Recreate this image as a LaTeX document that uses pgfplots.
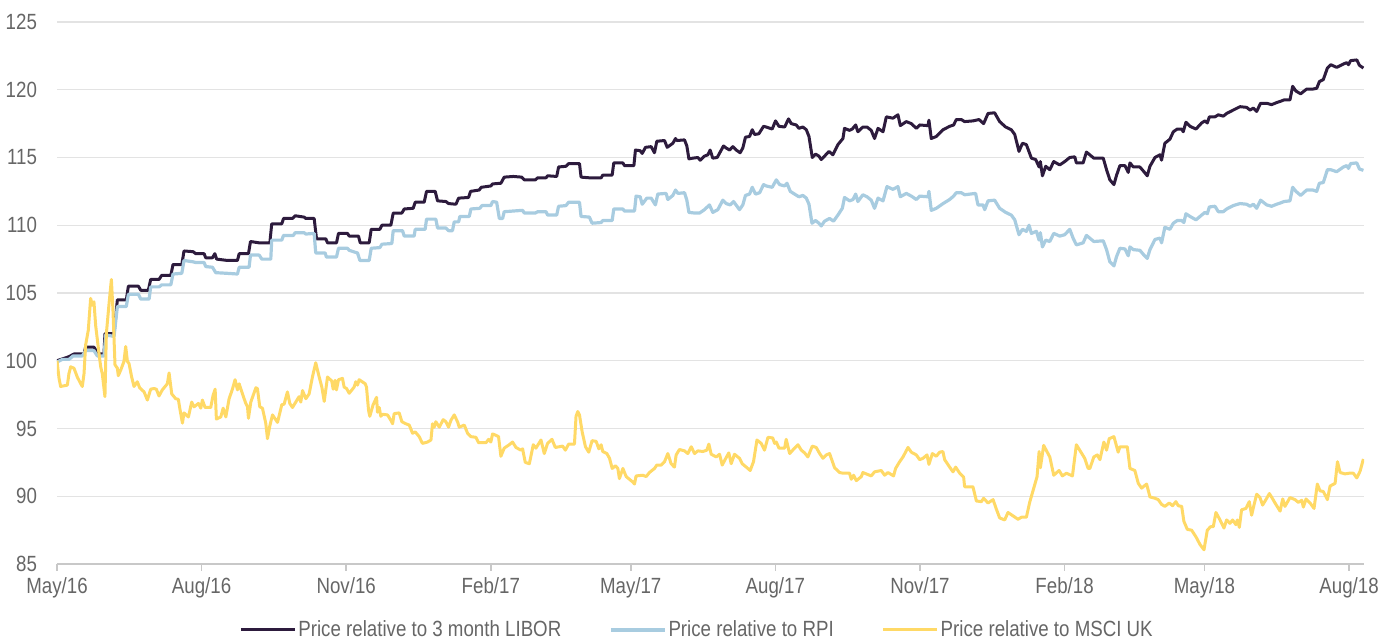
\documentclass[border=0pt]{standalone}
\usepackage{pgfplots}
\pgfplotsset{compat=1.18}
\usepackage{pgfplotstable}
\usepackage{fontspec}
\setmainfont{Liberation Sans}[FakeStretch=0.85]
\definecolor{libor}{HTML}{2D1B3D}
\definecolor{rpi}{HTML}{A8CCE0}
\definecolor{msci}{HTML}{FFD966}
\definecolor{txt}{HTML}{666666}
\definecolor{gridc}{HTML}{E3E3E3}
\definecolor{axisgray}{HTML}{C8C8C8}

% x = days since 1 May 2016
\pgfplotstableread{
x y
0 100.0
7.6 100.3
10.8 100.5
17.2 100.5
18.2 101.0
23.5 101.0
26.3 100.5
29.9 100.5
30.5 102.0
36.3 102.0
38.4 104.5
44.1 104.5
45.4 105.5
51.8 105.5
53.3 105.2
58.1 105.2
59.6 106.0
64.9 106.0
66.6 106.3
72.4 106.3
73.8 107.1
79.4 107.1
80.8 108.1
86.6 108.05
88.3 107.9
93.6 107.9
94.6 107.6
98.9 107.6
100.4 107.9
101.6 107.5
108.4 107.4
114.8 107.4
115.9 107.9
121.8 107.9
123.1 108.8
128.6 108.7
135.4 108.7
136.6 110.1
143.0 110.1
144.1 110.5
149.8 110.5
151.5 110.7
157.2 110.6
158.3 110.5
163.6 110.5
165.1 109.0
171.0 109.0
172.1 108.7
177.8 108.7
179.1 109.4
184.8 109.4
185.9 109.2
191.8 109.2
192.9 108.7
198.6 108.7
199.9 109.7
205.4 109.7
206.7 110.0
212.4 110.0
213.9 110.9
219.4 110.9
220.9 111.2
226.6 111.25
227.9 111.7
233.6 111.7
235.1 112.5
240.6 112.5
242.1 111.8
247.4 111.75
249.1 111.6
253.8 111.55
255.5 112.0
261.8 112.05
263.1 112.5
268.6 112.6
269.9 112.8
276.0 112.9
277.1 113.05
282.4 113.1
284.5 113.55
290.3 113.6
295.6 113.55
297.3 113.35
304.3 113.35
305.8 113.5
311.1 113.5
312.1 113.65
317.9 113.6
319.1 114.3
323.8 114.35
325.5 114.55
332.4 114.55
333.4 113.55
338.7 113.5
346.2 113.5
347.2 113.7
353.2 113.7
354.2 114.6
360.0 114.6
361.0 114.4
367.0 114.4
368.0 115.55
371.0 115.5
372.3 115.3
374.4 115.75
378.0 115.8
380.1 115.35
381.6 116.2
386.5 116.25
388.2 115.75
391.8 116.05
393.5 116.4
394.3 116.25
399.2 116.3
400.7 115.85
402.0 114.9
404.5 114.95
407.7 115.0
409.2 114.8
411.9 115.1
414.1 115.2
415.5 115.55
417.2 114.95
420.0 115.0
422.6 115.55
424.0 115.85
425.7 115.7
427.9 115.55
430.0 115.8
432.1 115.55
434.6 115.35
436.3 115.7
438.0 116.5
440.6 116.55
442.3 117.05
443.8 116.7
446.5 116.75
449.5 117.3
451.2 117.25
455.0 117.1
457.1 117.7
459.3 117.3
462.9 117.25
465.4 117.85
467.1 117.5
470.3 117.4
472.0 117.15
474.5 117.25
476.7 117.05
478.4 116.55
480.5 115.0
482.6 115.25
484.7 115.1
486.2 114.85
488.3 115.1
491.1 115.45
493.6 115.2
496.8 115.95
500.0 116.4
501.0 117.15
504.2 117.0
505.9 117.1
508.1 117.4
509.5 116.9
512.7 117.25
515.3 117.25
518.0 117.0
520.1 116.4
522.3 117.15
525.5 116.9
527.6 118.0
531.8 117.9
535.0 118.15
536.5 117.35
540.3 117.65
543.5 117.5
546.7 117.15
548.8 117.4
554.1 117.35
554.7 117.75
556.2 116.4
559.4 116.55
563.7 117.05
567.9 117.3
570.4 117.4
572.1 117.8
575.3 117.8
577.4 117.65
582.7 117.7
586.6 117.8
589.5 117.5
592.3 118.25
596.5 118.3
599.7 117.65
603.5 117.25
607.1 117.05
609.3 116.7
612.0 115.45
614.2 116.05
616.7 115.95
619.9 114.95
622.6 114.85
624.8 114.3
625.6 114.7
626.9 113.65
629.0 114.35
631.6 114.1
634.1 114.7
637.9 114.45
641.1 114.7
644.3 115.0
647.5 115.05
648.5 114.6
652.8 114.6
654.9 115.4
657.0 115.2
659.6 114.95
665.6 114.95
667.7 114.1
669.8 113.35
672.4 113.0
674.1 113.7
676.2 114.4
679.4 114.4
681.5 113.9
682.6 114.6
684.7 114.3
688.9 114.3
691.5 113.95
693.6 113.65
695.3 114.35
698.5 115.0
701.7 115.2
702.7 114.8
704.8 116.05
708.0 116.35
710.2 116.9
712.7 117.1
715.5 117.1
716.5 116.9
718.2 117.6
720.8 117.3
724.6 117.1
728.2 117.55
730.3 117.7
731.8 117.55
733.1 118.0
736.7 118.0
738.8 118.15
742.0 118.05
744.1 118.25
748.3 118.5
752.6 118.75
756.8 118.7
759.0 118.5
761.1 118.65
763.2 118.4
765.7 119.0
769.6 119.0
772.7 118.9
775.9 119.05
778.5 119.15
780.6 119.25
784.4 119.25
786.1 120.25
788.2 119.9
791.2 119.7
795.0 120.05
798.9 120.05
801.4 120.1
803.1 120.6
805.6 120.75
808.2 121.6
810.3 121.85
814.1 121.65
818.4 121.9
820.5 122.0
821.6 121.85
823.0 122.15
826.9 122.2
828.6 121.8
831.1 121.6
}\libortable

\pgfplotstableread{
x y
0 99.9
3.4 100.1
7.6 100.1
10.2 100.35
16.1 100.35
18.2 100.75
23.5 100.75
25.7 100.35
29.9 100.35
31.0 101.9
36.3 101.8
38.4 104.0
44.1 104.0
45.4 104.9
51.8 104.9
53.3 104.55
58.6 104.55
59.6 105.45
64.9 105.45
66.6 105.6
72.4 105.6
73.8 106.4
79.4 106.45
80.8 107.4
86.6 107.3
88.3 107.25
93.6 107.25
94.6 106.95
98.9 106.9
101.0 106.5
108.4 106.45
114.8 106.4
115.9 106.9
122.2 106.9
123.1 107.8
128.6 107.8
130.3 107.5
136.0 107.5
136.6 108.9
143.0 108.9
144.1 109.25
150.4 109.25
151.5 109.45
157.2 109.45
158.3 109.35
163.6 109.4
164.6 107.95
170.6 107.95
171.4 107.65
177.8 107.65
179.1 108.3
184.8 108.3
185.9 108.15
191.2 107.95
192.7 107.4
198.6 107.4
199.9 108.3
205.4 108.35
206.7 108.6
213.0 108.65
213.9 109.6
219.8 109.6
220.9 109.2
227.2 109.2
227.9 109.7
234.2 109.7
235.1 110.45
241.0 110.45
242.1 109.8
247.4 109.8
249.1 109.6
251.6 109.6
252.7 110.25
255.5 110.25
256.3 110.65
262.3 110.65
263.3 111.2
269.0 111.25
270.3 111.45
276.0 111.45
277.1 111.75
279.7 111.7
281.4 110.5
283.5 110.5
284.5 111.0
296.2 111.1
297.3 110.9
304.3 110.9
305.8 111.0
311.1 111.0
312.1 110.75
317.9 110.75
319.1 111.4
323.8 111.45
325.5 111.7
332.4 111.7
333.4 110.65
338.7 110.6
340.4 110.15
346.2 110.2
347.2 110.35
353.2 110.35
354.2 111.2
360.0 111.2
361.0 111.05
367.4 111.05
368.4 112.15
371.0 112.1
372.3 111.55
375.2 112.0
378.0 112.0
380.7 111.5
382.2 112.3
387.5 112.35
388.6 111.9
391.8 112.2
393.5 112.6
395.0 112.35
399.2 112.4
400.7 111.85
402.0 110.95
405.6 110.9
408.8 110.9
411.9 111.15
415.1 111.5
417.2 110.95
420.4 111.15
423.6 111.85
425.7 111.6
428.3 111.5
430.4 111.75
434.2 111.15
436.3 111.5
438.0 112.2
440.6 112.3
442.3 112.8
444.4 112.3
447.0 112.4
449.5 113.0
451.2 112.9
455.0 112.8
457.6 113.35
459.7 113.0
462.9 112.9
464.4 113.1
466.5 112.5
469.2 112.3
472.0 112.1
474.5 112.2
476.7 112.0
478.4 111.55
480.3 110.15
482.6 110.35
484.7 110.15
486.2 109.95
488.3 110.3
491.5 110.5
494.0 110.3
496.8 110.75
499.6 111.25
501.0 112.05
504.2 111.8
506.4 111.9
508.1 112.3
509.5 111.75
512.7 112.25
515.3 112.1
518.0 111.85
520.1 111.25
522.3 112.0
525.5 111.8
528.0 112.85
531.8 112.65
535.0 112.85
536.5 112.1
540.3 112.35
543.5 112.15
546.7 111.9
548.8 112.15
554.1 112.1
554.7 112.5
556.2 111.1
559.4 111.25
563.7 111.6
567.9 111.9
570.4 112.15
572.1 112.4
575.3 112.4
577.4 112.25
584.4 112.35
585.9 111.5
589.1 111.5
590.2 111.15
592.3 111.8
596.5 111.85
599.7 111.25
603.5 110.95
607.1 110.75
609.3 110.4
612.0 109.3
614.2 109.7
616.7 109.55
618.4 110.0
619.9 109.4
623.1 109.55
624.8 108.9
625.6 109.45
626.9 108.4
629.0 108.9
631.6 108.8
634.1 109.4
637.9 109.2
641.1 109.3
644.3 109.7
646.4 109.05
648.5 108.55
652.8 108.7
654.9 109.25
657.0 109.05
659.6 108.8
665.6 108.85
667.7 108.2
669.8 107.3
672.4 107.0
674.1 107.7
676.2 108.3
679.4 108.25
681.5 107.75
682.6 108.4
684.7 108.2
688.9 108.15
691.5 107.8
693.6 107.55
695.3 108.2
698.5 108.95
701.7 109.05
702.7 108.7
704.8 109.85
708.0 109.7
710.2 110.15
712.7 110.35
715.5 110.35
716.9 110.2
718.2 110.85
720.8 110.65
724.6 110.4
728.2 110.75
730.3 110.95
731.8 110.85
733.1 111.35
736.7 111.4
738.8 111.0
742.0 111.0
744.1 111.2
748.3 111.45
752.6 111.6
756.8 111.55
759.0 111.4
761.1 111.55
763.2 111.25
765.7 111.85
769.6 111.5
772.7 111.4
775.9 111.55
778.5 111.65
780.6 111.75
784.4 111.8
786.1 112.8
788.2 112.5
791.2 112.2
795.0 112.6
798.9 112.6
801.4 112.5
803.1 113.1
805.6 113.15
808.2 114.1
810.3 114.1
814.1 113.95
818.4 114.3
820.5 114.4
821.6 114.2
823.0 114.55
826.9 114.6
828.6 114.15
831.1 114.05
}\rpitable

\pgfplotstableread{
x y
0 100.0
1.3 98.7
2.3 98.1
6.6 98.2
7.6 99.05
8.7 99.55
10.8 99.45
12.9 98.8
15.1 98.3
16.1 98.1
17.2 99.05
18.2 101.15
19.9 102.25
21.4 104.6
22.5 104.1
23.5 104.35
24.6 102.6
26.7 100.55
27.8 99.55
28.8 99.05
30.5 97.35
31.4 102.0
33.1 104.2
34.6 106.0
35.6 103.75
36.9 99.7
38.4 99.45
39.0 98.9
40.5 99.3
42.6 99.95
43.7 101.05
44.8 99.95
45.8 99.8
47.5 98.8
49.0 98.1
51.1 98.45
52.6 98.0
55.4 97.7
57.5 97.1
59.6 97.9
61.7 97.95
63.2 97.9
64.9 97.4
67.0 97.85
70.2 98.3
71.3 99.1
73.0 97.55
75.5 97.2
77.2 97.15
78.1 96.5
79.8 95.4
80.8 96.15
83.6 95.85
85.7 96.95
87.2 96.6
90.0 96.85
91.5 96.5
92.5 97.1
94.2 96.55
97.8 96.55
99.3 97.45
100.6 97.9
101.4 95.7
104.2 95.85
105.7 96.5
107.4 95.85
109.5 97.2
111.6 97.9
113.3 98.6
114.8 97.85
115.9 98.3
118.0 97.55
120.1 96.85
121.2 96.6
121.8 95.75
123.3 96.95
126.5 98.0
127.5 97.95
129.0 96.6
130.7 96.5
132.8 95.4
133.9 94.25
135.4 95.2
137.1 96.0
140.3 95.45
143.0 96.75
144.5 96.8
146.6 97.7
148.1 96.85
149.8 96.55
151.9 96.95
154.0 97.35
155.1 96.95
156.2 97.8
158.3 97.2
160.4 97.55
162.5 98.8
164.6 99.85
166.8 98.8
168.5 98.05
170.0 97.0
172.1 98.8
174.8 98.5
175.7 97.9
176.9 98.55
177.8 97.85
179.1 98.6
181.6 98.7
182.7 98.05
184.2 97.95
185.9 97.6
189.0 98.05
190.1 98.45
191.2 98.2
192.2 98.6
196.1 98.3
196.9 98.05
198.2 96.35
199.0 95.9
201.1 96.75
203.3 97.3
203.9 96.2
205.0 96.55
206.0 95.9
207.1 96.05
210.3 96.0
212.4 95.6
213.5 95.35
214.5 96.1
217.7 96.15
219.4 95.5
221.9 95.35
224.1 95.25
226.2 94.65
227.9 94.75
230.4 94.4
232.5 93.9
235.7 94.0
237.9 94.15
238.9 95.35
240.0 95.1
241.0 95.5
243.2 95.1
245.7 95.65
247.4 95.5
249.1 95.1
250.6 95.6
252.7 96.0
254.8 95.5
255.9 95.1
259.1 95.25
261.2 94.65
263.3 94.4
266.5 94.35
268.2 93.95
272.9 93.95
274.6 94.2
276.0 94.0
277.1 94.6
279.2 94.5
280.9 94.4
282.4 92.95
284.5 93.55
287.7 93.8
289.8 94.0
292.0 93.6
295.1 93.4
296.2 93.5
297.9 92.5
300.5 92.4
303.0 93.8
304.7 93.55
307.9 94.15
310.0 93.15
312.1 93.9
314.9 94.2
317.0 93.6
321.7 93.7
323.4 93.4
325.5 93.85
329.2 93.85
330.2 95.9
331.3 96.25
332.4 96.0
334.1 94.75
336.2 93.65
338.3 93.25
340.4 94.1
343.0 94.05
344.7 93.5
346.2 93.8
347.2 93.3
349.8 93.15
351.5 92.8
353.2 92.05
355.3 92.25
356.8 92.05
357.8 91.3
360.0 92.05
362.1 91.45
364.2 91.25
366.3 91.05
367.4 90.9
368.4 91.5
372.7 91.55
374.8 91.45
376.9 91.75
380.1 92.05
381.6 92.3
384.4 92.3
386.5 92.55
388.6 93.15
390.7 92.4
392.8 92.15
393.9 93.05
396.0 93.45
399.2 93.35
401.3 93.15
403.5 93.65
405.6 93.15
407.7 93.35
410.9 93.3
413.4 93.4
414.7 93.85
416.2 93.1
419.4 92.9
421.5 93.1
423.2 92.3
425.7 92.85
427.4 93.2
428.9 92.4
431.0 93.1
434.2 92.8
435.9 92.4
438.5 92.15
441.0 91.9
443.1 92.55
445.3 94.15
448.0 93.9
450.1 93.4
452.3 94.35
455.4 94.3
456.5 93.9
457.6 94.0
459.3 93.55
462.9 93.55
463.9 94.2
466.1 93.15
469.2 93.55
471.4 93.8
473.5 93.4
475.6 93.2
477.7 92.9
480.5 93.7
483.0 93.6
485.2 93.15
487.3 92.8
489.4 93.05
491.5 93.15
494.7 92.1
497.9 91.75
500.0 91.7
504.2 91.7
505.3 91.25
506.8 91.55
508.5 91.15
511.7 91.45
512.7 91.75
514.8 91.65
518.0 91.5
520.1 91.8
524.4 91.9
526.5 91.55
528.6 91.75
532.2 91.5
533.5 92.05
536.1 92.55
538.2 92.9
541.4 93.6
543.5 93.25
546.7 93.05
548.8 92.7
550.9 92.8
553.5 93.05
554.7 92.35
556.9 93.15
559.4 92.95
561.5 93.25
563.6 93.3
564.7 92.7
567.9 92.15
570.0 91.8
571.7 92.15
574.3 91.7
576.8 91.4
577.4 90.7
582.7 90.7
584.9 89.65
588.1 89.6
589.5 89.85
592.3 89.5
595.5 89.75
597.6 89.05
599.7 88.4
602.9 88.25
605.0 88.8
608.2 88.55
611.4 88.3
613.5 88.45
616.7 88.45
618.8 89.55
621.4 90.6
623.5 91.45
624.8 93.3
625.6 92.1
627.7 93.75
631.6 92.9
634.1 91.55
637.5 91.9
639.6 91.5
642.2 91.7
646.0 91.5
648.5 93.8
651.7 93.2
653.8 92.8
656.0 92.05
657.1 92.05
659.6 92.9
661.8 93.05
663.5 92.7
666.0 94.0
667.7 93.4
669.4 94.25
672.4 94.4
675.1 93.25
676.2 93.65
680.9 93.65
682.6 92.05
685.7 91.9
687.9 90.95
690.0 90.6
693.2 90.9
695.3 89.95
698.5 89.85
700.6 89.75
702.7 89.4
704.8 89.25
707.6 89.5
709.7 89.3
711.8 89.6
713.3 89.3
715.5 89.25
716.9 88.15
719.1 87.55
721.8 87.5
724.6 87.0
727.1 86.45
729.7 86.05
731.8 87.5
733.9 87.75
735.6 87.75
737.3 88.8
739.9 88.25
742.4 87.65
744.1 88.25
746.2 88.0
747.9 88.25
750.0 87.9
750.9 88.25
752.2 87.7
753.6 89.0
756.4 89.1
758.5 89.6
760.0 88.6
761.5 89.35
763.2 90.15
765.3 89.9
767.0 89.35
769.6 89.85
771.3 90.2
773.4 89.8
774.9 89.5
778.1 88.9
779.8 89.8
781.2 89.25
784.4 89.9
787.6 89.75
789.7 89.55
791.9 89.7
792.9 89.2
794.6 89.8
797.2 89.5
799.7 89.1
801.8 90.9
803.5 90.4
805.6 90.35
808.2 89.75
809.9 90.75
813.1 90.95
814.6 92.55
816.3 91.75
819.4 91.65
822.2 91.7
824.7 91.7
826.9 91.35
829.0 91.85
831.1 92.75
}\mscitable

\begin{document}
\begin{tikzpicture}
\begin{axis}[
  name=ax,
  scale only axis, width=653.5pt, height=271pt,
  xmin=0, xmax=831.5, ymin=85, ymax=125,
  axis x line*=bottom, axis y line*=left,
  x axis line style={draw=axisgray, line width=0.8pt, -},
  y axis line style={draw=none},
  xtick={0,92,184,276,365,457,549,641,730,822},
  xticklabels={May/16,Aug/16,Nov/16,Feb/17,May/17,Aug/17,Nov/17,Feb/18,May/18,Aug/18},
  ytick={85,90,...,125},
  xtick align=outside,
  major tick length=3.5pt,
  xtick style={draw=axisgray, line width=0.8pt},
  ytick style={draw=none},
  ymajorgrids, grid style={draw=gridc, line width=0.7pt},
  /pgf/number format/assume math mode=true,
  tick label style={font=\fontsize{11}{12.5}\selectfont, text=txt},
  yticklabel style={xshift=-6.5pt},
  xticklabel style={yshift=0pt},
  legend style={at={(0.4897,0)}, anchor=center, yshift=-33pt, draw=none, fill=none,
    font=\fontsize{11}{12.5}\selectfont, text=txt, legend columns=3,
    nodes={inner sep=1pt},
    /tikz/every even column/.append style={column sep=23pt}},
  legend cell align=left,
  legend image code/.code={\draw[#1] (0pt,0pt) -- (27pt,0pt);},
  line join=round,
]
\addplot[libor, line width=1.5pt] table {\libortable};
\addlegendentry{Price relative to 3 month LIBOR}
\addplot[rpi, line width=1.6pt] table {\rpitable};
\addlegendentry{Price relative to RPI}
\addplot[msci, line width=1.5pt] table {\mscitable};
\addlegendentry{Price relative to MSCI UK}
\end{axis}
\pgfresetboundingbox
\path[use as bounding box] ([xshift=-28.5pt,yshift=-37.5pt]ax.south west) rectangle ([xshift=8.5pt,yshift=11pt]ax.north east);
\end{tikzpicture}
\end{document}
